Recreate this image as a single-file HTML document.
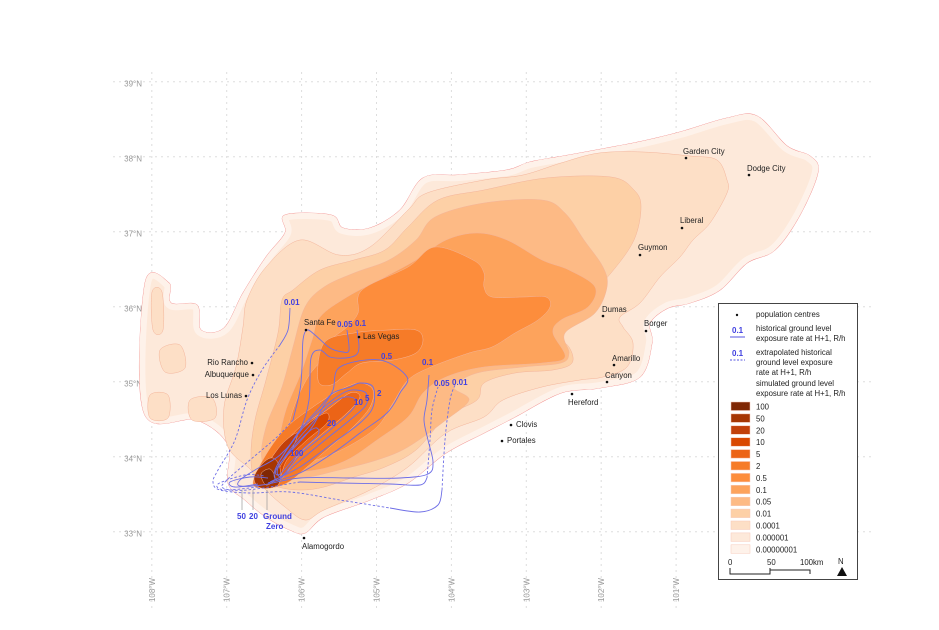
<!DOCTYPE html>
<html><head><meta charset="utf-8">
<style>
html,body{margin:0;padding:0;background:#fff;}
svg{display:block;font-family:"Liberation Sans","DejaVu Sans",sans-serif;}
.city{font-size:7.8px;fill:#222;}
.clab{font-size:8px;fill:#4040e0;font-weight:bold;}
.ax{font-size:8px;fill:#999;}
.lg{font-size:7.8px;fill:#222;}
</style></head>
<body>
<svg id="map" width="939" height="630" viewBox="0 0 939 630" xmlns="http://www.w3.org/2000/svg">
<defs><clipPath id="outerClip"><path id="outerClipPath" d=""/></clipPath></defs>
<g id="grid"></g>
<g id="plume"></g>
<g id="contours"></g>
<g id="cities"></g>
<g id="legend"></g>
</svg>
<script>
// graticule data
const lonTicks=[108,107,106,105,104,103,102,101];
const latTicks=[39,38,37,36,35,34,33];
// population centres
const cityNames=["Santa Fe","Las Vegas","Rio Rancho","Albuquerque","Los Lunas","Alamogordo","Clovis","Portales","Hereford","Canyon","Amarillo","Borger","Dumas","Guymon","Liberal","Garden City","Dodge City"];
const cityX=[306,359,252,253,246,304,511,502,572,607,614,646,603,640,682,686,749];
const cityY=[330,337,363,375,396,538,425,441,394,382,365,331,316,255,228,158,175];
const cityLab=[[-2,-5,"start"],[4,2,"start"],[-4,2,"end"],[-4,2,"end"],[-4,2,"end"],[-2,11,"start"],[5,2,"start"],[5,2,"start"],[-4,11,"start"],[-2,-4,"start"],[-2,-4,"start"],[-2,-5,"start"],[-1,-4,"start"],[-2,-5,"start"],[-2,-5,"start"],[-3,-4,"start"],[-2,-4,"start"]];
// legend
const legendLevels=["100","50","20","10","5","2","0.5","0.1","0.05","0.01","0.0001","0.000001","0.00000001"];
const legendColors=["#7f2704","#a63603","#c2400a","#d94801","#ec6417","#f67b28","#fd8d3c","#fda35c","#fdba85","#fdd0a6","#fddfc6","#fde9da","#fef2ea"];

const NS="http://www.w3.org/2000/svg";
const xOfLon=l=>151.8+(108-l)*74.9;
const yOfLat=l=>81.7+(39-l)*75;
function mk(tag,attrs,parent){const e=document.createElementNS(NS,tag);for(const k in attrs)e.setAttribute(k,attrs[k]);parent.appendChild(e);return e;}
function smooth(p,closed){
  const n=p.length;let d="M"+p[0][0]+","+p[0][1];
  const g=i=>closed?p[(i+n)%n]:p[Math.max(0,Math.min(n-1,i))];
  const last=closed?n:n-1;
  for(let i=0;i<last;i++){const p0=g(i-1),p1=g(i),p2=g(i+1),p3=g(i+2);
    const c1=[p1[0]+(p2[0]-p0[0])/6,p1[1]+(p2[1]-p0[1])/6],c2=[p2[0]-(p3[0]-p1[0])/6,p2[1]-(p3[1]-p1[1])/6];
    d+=" C"+c1[0].toFixed(1)+","+c1[1].toFixed(1)+" "+c2[0].toFixed(1)+","+c2[1].toFixed(1)+" "+p2[0]+","+p2[1];}
  return d+(closed?"Z":"");
}
// grid
const grid=document.getElementById('grid');
lonTicks.forEach(l=>{const x=xOfLon(l);
  const ln=mk('line',{x1:x,y1:72,x2:x,y2:612,stroke:'#ddd','stroke-width':1,'stroke-dasharray':'2,4'},grid);
  
  
  const t=mk('text',{class:'ax',transform:`translate(${x+3},${590}) rotate(-90)`,'text-anchor':'middle'},grid);t.textContent=l+"°W";
  
  
});
latTicks.forEach(l=>{const y=yOfLat(l);
  const ln=mk('line',{x1:113,y1:y,x2:872,y2:y,stroke:'#ddd','stroke-width':1,'stroke-dasharray':'2,4'},grid);
  
  
  const t=mk('text',{class:'ax',x:142,y:y+5,'text-anchor':'end'},grid);t.textContent=l+"°N";
  
  
});
// plume layers
const plume=document.getElementById('plume');
const outer=[[145,283],[169,283],[171,303],[197,305],[201,330],[224,328],[243,293],[266,257],[285,233],[285,215],[331,215],[343,228],[370,228],[400,210],[423,178],[458,175],[507,170],[530,162],[569,155],[607,148],[643,141],[680,132],[727,118],[757,116],[787,146],[810,156],[818,172],[800,215],[775,250],[747,263],[720,290],[690,303],[668,308],[650,323],[652,343],[640,377],[600,388],[561,393],[515,417],[484,433],[446,453],[408,483],[370,500],[324,517],[305,533],[290,530],[266,517],[245,500],[228,483],[228,445],[197,420],[144,413]];
const L3=[[247,300],[266,267],[300,240],[339,255],[370,247],[408,210],[427,193],[484,180],[523,175],[561,163],[599,153],[643,152],[690,156],[717,160],[727,180],[727,193],[710,223],[693,240],[680,257],[660,277],[640,303],[620,317],[623,327],[633,343],[627,367],[603,377],[580,380],[542,387],[503,400],[484,417],[446,433],[408,467],[370,490],[324,510],[305,520],[285,507],[266,490],[251,470],[228,447],[224,407],[236,367],[243,327]];
const L4=[[282,300],[293,290],[320,270],[354,260],[385,250],[408,227],[438,200],[484,190],[546,178],[611,177],[634,190],[641,207],[634,240],[611,273],[584,300],[557,320],[553,333],[569,347],[572,363],[553,370],[515,373],[484,383],[477,400],[446,417],[416,450],[385,467],[354,477],[324,487],[301,490],[278,487],[255,477],[251,453],[255,420],[266,380],[278,333]];
const L5=[[305,307],[324,287],[354,273],[389,260],[416,240],[435,217],[484,203],[542,200],[565,213],[584,240],[603,267],[607,287],[595,313],[565,333],[569,353],[561,363],[523,367],[477,373],[454,387],[469,400],[446,420],[408,447],[377,460],[339,470],[308,477],[278,477],[262,460],[266,427],[282,387],[293,347]];
const L6=[[320,317],[347,297],[385,277],[416,260],[446,240],[477,233],[507,240],[542,260],[569,270],[595,287],[588,307],[561,320],[553,333],[565,357],[542,363],[484,367],[446,377],[423,393],[408,417],[377,440],[347,460],[316,470],[285,470],[278,453],[285,413],[301,373],[312,340]];
const L7=[[358,313],[362,290],[408,267],[435,247],[473,260],[484,273],[484,287],[492,297],[523,297],[546,297],[550,307],[538,320],[515,333],[492,347],[469,353],[431,367],[408,380],[393,403],[377,427],[347,447],[316,460],[293,463],[285,447],[293,410],[308,377],[324,357],[331,340],[347,327]];
const L8a=[[324,343],[354,333],[389,330],[416,330],[423,340],[416,353],[393,360],[362,363],[347,373],[331,385],[318,380]];
const L8=[[253,483],[267,453],[287,427],[313,407],[340,390],[360,383],[373,390],[370,407],[353,427],[330,447],[307,467],[287,483],[267,488]];
const L9=[[260,480],[277,453],[300,427],[327,410],[350,393],[360,397],[347,413],[323,433],[300,453],[280,480]];
const L10=[[257,480],[273,457],[293,437],[313,420],[327,413],[327,423],[307,440],[287,460],[277,482]];
const L20=[[256,481],[270,460],[283,443],[297,433],[293,447],[280,467],[276,484]];
const L50=[[254,478],[263,463],[273,458],[280,468],[278,485],[261,488]];
const L100=[[261,474],[270,469],[275,479],[266,485]];
const lblob=[[[152,292],[162,292],[163,330],[153,330]],[[160,350],[180,345],[185,368],[165,372]],[[150,395],[168,395],[168,418],[150,418]],[[190,400],[212,398],[215,418],[192,420]]];

document.getElementById('outerClipPath').setAttribute('d',smooth(outer,true));
function layer(pts,fill,name,extra){const p=mk('path',Object.assign({d:smooth(pts,true),fill:fill,stroke:'#f4b49a','stroke-width':0.5},extra||{}),plume);
  
  return p;}
layer(outer,"#fef2ea","layer-1e-8",{stroke:'#f08a8a','stroke-width':0.8});
layer(outer,"#fde9da","layer-1e-6",{stroke:'#fef2ea','stroke-width':12,'clip-path':'url(#outerClip)'});
lblob.forEach(b=>layer(b,"#fddfc6","left-blob"));
layer(L3,"#fddfc6","layer-1e-4");
layer(L4,"#fdd0a6","layer-0.01");
layer(L5,"#fdba85","layer-0.05");
layer(L6,"#fda35c","layer-0.1");
layer(L7,"#fd8d3c","layer-0.5");
layer(L8a,"#f67b28","layer-2-north");
layer(L8,"#f67b28","layer-2");
layer(L9,"#ec6417","layer-5");
layer(L10,"#d94801","layer-10");
layer(L20,"#c2400a","layer-20");
layer(L50,"#a63603","layer-50");
layer(L100,"#7f2704","layer-100");

// contours
const cg=document.getElementById('contours');
function cline(pts,dashed,name,closed){const p=mk('path',{d:smooth(pts,!!closed),fill:'none',stroke:'#6e6ee6','stroke-width':0.9,'stroke-dasharray':dashed?'2.5,2':'none'},cg);
  
  }
cline([[290,308],[288,330],[280,345]],false,'contour-0.01');
cline([[280,345],[262,370],[247,400],[235,440],[218,470],[213,482],[220,490],[250,493],[290,492],[340,500],[390,508]],true,'contour-0.01-extrapolated');
cline([[390,508],[420,512],[438,505],[442,490]],false,'contour-0.01');
cline([[442,490],[445,440],[450,400],[455,385]],true,'contour-0.01-extrapolated');
cline([[347,330],[349,350],[343,352],[330,348],[315,335],[307,330],[303,340],[302,367],[300,390],[293,420]],false,'contour-0.05');
cline([[293,420],[277,437],[250,460],[227,480],[223,488],[247,490],[300,482]],true,'contour-0.05-extrapolated');
cline([[300,482],[340,483],[390,484],[420,485],[427,478]],false,'contour-0.05');
cline([[427,478],[430,440],[432,410],[438,387]],true,'contour-0.05-extrapolated');
cline([[357,330],[359,347],[356,355],[345,358],[330,357],[320,350],[311,358],[309,400],[300,430],[280,455],[255,470],[240,480],[240,486],[262,485],[300,478],[350,478],[400,478],[428,474],[433,462],[428,440],[424,420],[427,400],[429,375]],false,'contour-0.1');
cline([[280,463],[310,430],[323,407],[333,390],[340,367],[380,360],[407,377],[400,393],[387,413],[360,433],[333,453],[300,473],[268,483]],false,'contour-0.5');
cline([[280,460],[300,430],[320,407],[333,393],[350,387],[360,383],[373,387],[373,407],[360,423],[333,443],[300,467],[270,482]],false,'contour-2');
cline([[355,390],[366,393],[366,405],[350,420],[325,440],[295,465],[278,480],[275,470],[290,445],[310,420],[330,402],[345,392]],false,'contour-5',true);
cline([[345,397],[356,400],[352,410],[330,430],[300,455],[282,476],[278,468],[295,443],[315,420],[330,405]],false,'contour-10',true);
cline([[300,440],[315,428],[318,435],[300,452],[280,474],[277,468]],false,'contour-20',true);
cline([[258,484],[235,487],[230,482],[250,477],[268,478]],false,'contour-50');
cline([[258,487],[225,490],[218,484],[245,475],[265,476]],true,'contour-20-extrapolated');
[[242,490],[253,490],[267,490]].forEach(p=>{const l=mk('line',{x1:p[0],y1:p[1],x2:p[0],y2:510,stroke:'#999','stroke-width':0.7},cg);
  
  });
const clabs=[["0.01",284,305],["0.05",337,327],["0.1",355,326],["0.5",381,359],["0.1",422,365],["0.05",434,386],["0.01",452,385],["2",377,396],["5",365,401],["10",354,405],["20",327,426],["100",290,456],["50",237,519],["20",249,519],["Ground",263,519],["Zero",266,529]];
clabs.forEach(c=>{const t=mk('text',{class:'clab',x:c[1],y:c[2]},cg);t.textContent=c[0];
  
  });

// cities
const cgp=document.getElementById('cities');
cityNames.forEach((n,i)=>{
  const d=mk('circle',{cx:cityX[i],cy:cityY[i],r:1.3,fill:'#111'},cgp);
  
  
  const t=mk('text',{class:'city',x:cityX[i]+cityLab[i][0],y:cityY[i]+cityLab[i][1],'text-anchor':cityLab[i][2]},cgp);t.textContent=n;
  
  
});

// legend
const lg=document.getElementById('legend');
const box=mk('rect',{x:718.5,y:303.5,width:139,height:276,fill:'#fff',stroke:'#444','stroke-width':1},lg);


function lt(x,y,s,cls,fill){const t=mk('text',{class:cls||'lg',x:x,y:y},lg);if(fill)t.setAttribute('fill',fill);t.textContent=s;
  
  return t;}
mk('circle',{cx:737,cy:315,r:1.2,fill:'#111'},lg);
lt(756,317,"population centres");
lt(732,333,"0.1","clab");mk('line',{x1:730,y1:337,x2:745,y2:337,stroke:'#5555e0','stroke-width':1},lg);
lt(756,331,"historical ground level");lt(756,341,"exposure rate at H+1, R/h");
lt(732,356,"0.1","clab");mk('line',{x1:730,y1:360,x2:745,y2:360,stroke:'#5555e0','stroke-width':1,'stroke-dasharray':'2,1.5'},lg);
lt(756,355,"extrapolated historical");lt(756,365,"ground level exposure");lt(756,375,"rate at H+1, R/h");
lt(756,386,"simulated ground level");lt(756,396,"exposure rate at H+1, R/h");
legendLevels.forEach((v,i)=>{const y=402+i*11.9;
  const r=mk('rect',{x:731,y:y,width:19,height:8.5,fill:legendColors[i],stroke:'#f7c8b8','stroke-width':0.5},lg);
  
  
  lt(756,y+7.5,v);});
lt(728,565,"0");lt(767,565,"50");lt(800,565,"100km");
mk('path',{d:'M730,568 V574 H770 V568 M770,574 V570 H810 V574',fill:'none',stroke:'#222','stroke-width':1},lg);
lt(838,564,"N");
mk('path',{d:'M842,567 L847,576 L837,576 Z',fill:'#111'},lg);
</script>
</body></html>
